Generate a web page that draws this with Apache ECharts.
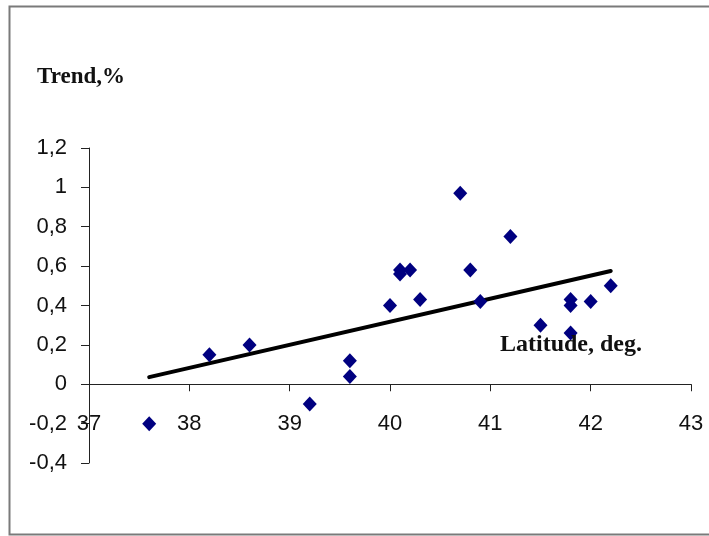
<!DOCTYPE html>
<html>
<head>
<meta charset="utf-8">
<style>
  html, body { margin: 0; padding: 0; background: #fff; }
  #chart { width: 709px; height: 536px; }
</style>
<script src="https://cdn.jsdelivr.net/npm/echarts@6/dist/echarts.min.js"></script>
</head>
<body>
<div id="chart"></div>
<script>
// Station latitude (deg) and trend (%)
const latitude = [37.6, 38.2, 38.6, 39.2, 39.6, 39.6, 40.0, 40.1, 40.1, 40.2, 40.3,
                  40.7, 40.8, 40.9, 41.2, 41.5, 41.8, 41.8, 41.8, 42.0, 42.2];
const trend    = [-0.20, 0.15, 0.20, -0.10, 0.12, 0.04, 0.40, 0.56, 0.58, 0.58, 0.43,
                  0.97, 0.58, 0.42, 0.75, 0.30, 0.43, 0.40, 0.26, 0.42, 0.50];

// Linear trend line end points
const fitX = [37.6, 42.2];
const fitY = [0.036, 0.575];

// Axis tick labels (decimal comma)
const xTicks = [37, 38, 39, 40, 41, 42, 43];
const yTicks = ['-0,4', '-0,2', '0', '0,2', '0,4', '0,6', '0,8', '1', '1,2'];

const points = latitude.map((x, i) => [x, trend[i]]);
const fitLine = fitX.map((x, i) => [x, fitY[i]]);

const chart = echarts.init(document.getElementById('chart'), null, { renderer: 'canvas' });

const labelFont = {
  fontFamily: '"Liberation Sans", Arial, sans-serif',
  fontSize: 22,
  color: '#111'
};

chart.setOption({
  animation: false,
  backgroundColor: '#fff',
  grid: { left: 89, right: 18, top: 148, bottom: 73 },
  xAxis: {
    type: 'value',
    min: 37, max: 43, interval: 1,
    axisLine: { onZero: true, lineStyle: { color: '#222', width: 1 } },
    axisTick: { show: true, inside: false, length: 7, lineStyle: { color: '#222' } },
    axisLabel: Object.assign({
      margin: -50,
      formatter: v => String(xTicks[Math.round(v - xTicks[0])])
    }, labelFont),
    splitLine: { show: false }
  },
  yAxis: {
    type: 'value',
    min: -0.4, max: 1.2, interval: 0.2,
    axisLine: { show: true, onZero: false, lineStyle: { color: '#222', width: 1 } },
    axisTick: { show: true, inside: false, length: 8, lineStyle: { color: '#222' } },
    axisLabel: Object.assign({
      margin: 22,
      formatter: v => yTicks[Math.round((v + 0.4) / 0.2)]
    }, labelFont),
    splitLine: { show: false }
  },
  series: [
    {
      type: 'line',
      data: fitLine,
      symbol: 'none',
      lineStyle: { color: '#000', width: 4, cap: 'round' },
      z: 2
    },
    {
      type: 'scatter',
      data: points,
      symbol: 'diamond',
      symbolSize: [14, 15],
      itemStyle: { color: '#000080', opacity: 1 },
      z: 3
    }
  ],
  graphic: [
    {
      type: 'rect',
      shape: { x: 9.5, y: 6.5, width: 740, height: 528 },
      style: { fill: 'none', stroke: '#7a7a7a', lineWidth: 2 },
      silent: true
    },
    {
      type: 'text',
      left: 37, top: 66,
      style: {
        text: 'Trend,%',
        font: 'bold 23px "Liberation Serif", "Times New Roman", serif',
        fill: '#111'
      }
    },
    {
      type: 'text',
      left: 500, top: 333,
      z: 10,
      style: {
        text: 'Latitude, deg.',
        font: 'bold 24px "Liberation Serif", "Times New Roman", serif',
        fill: '#111'
      }
    }
  ]
});
</script>
</body>
</html>
